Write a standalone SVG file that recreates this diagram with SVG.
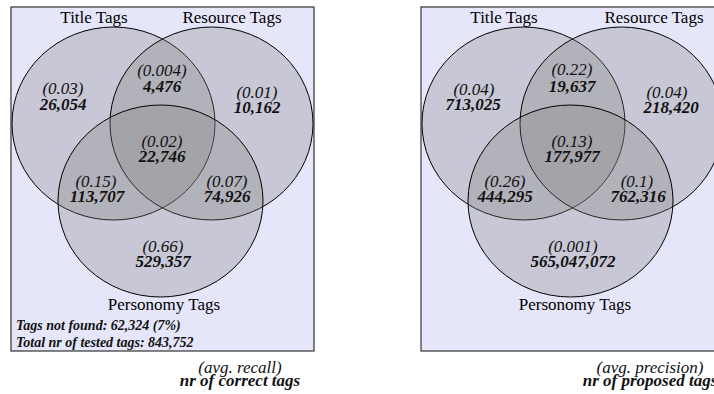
<svg xmlns="http://www.w3.org/2000/svg" width="714" height="394" viewBox="0 0 714 394">
<style>
.panel{fill:#e6e6fa;stroke:#333;stroke-width:1.2}
.set{fill:#808080;fill-opacity:0.3;stroke:#000;stroke-width:1}
.lbl{font-family:"Liberation Serif","Times New Roman",serif;font-size:17px;fill:#000;text-anchor:middle}
.p{font-family:"Liberation Serif","Times New Roman",serif;font-size:17px;font-style:italic;fill:#111;text-anchor:middle}
.n{font-family:"Liberation Serif","Times New Roman",serif;font-size:17px;font-style:italic;font-weight:bold;fill:#111;text-anchor:middle}
.s{font-family:"Liberation Serif","Times New Roman",serif;font-size:14px;font-style:italic;font-weight:bold;fill:#111}
</style>
<rect width="714" height="394" fill="#fff"/>
<g id="recall-panel">
<rect class="panel" x="11" y="7" width="303" height="344"/>
<g id="recall-title"><ellipse class="set" cx="113.5" cy="123.5" rx="101.5" ry="96.5"/></g>
<g id="recall-resource"><ellipse class="set" cx="211.5" cy="123.5" rx="101.5" ry="96.5"/></g>
<g id="recall-personomy"><ellipse class="set" cx="160.5" cy="201" rx="102.5" ry="96"/></g>
<text class="lbl" x="94" y="23">Title Tags</text>
<text class="lbl" x="232" y="23">Resource Tags</text>
<text class="lbl" x="164" y="310">Personomy Tags</text>
<text class="p" x="63" y="94">(0.03)</text><text class="n" x="63" y="110">26,054</text>
<text class="p" x="162" y="76">(0.004)</text><text class="n" x="162" y="92">4,476</text>
<text class="p" x="257" y="98">(0.01)</text><text class="n" x="257" y="113">10,162</text>
<text class="p" x="162" y="147">(0.02)</text><text class="n" x="162" y="162">22,746</text>
<text class="p" x="96" y="187">(0.15)</text><text class="n" x="97" y="202">113,707</text>
<text class="p" x="227" y="187">(0.07)</text><text class="n" x="227" y="202">74,926</text>
<text class="p" x="163" y="252">(0.66)</text><text class="n" x="163" y="267">529,357</text>
<text class="s" x="16" y="330">Tags not found: 62,324 (7%)</text>
<text class="s" x="16" y="347">Total nr of tested tags: 843,752</text>
<text class="p" x="240" y="373">(avg. recall)</text>
<text class="n" x="240" y="386">nr of correct tags</text>
</g>
<g id="precision-panel">
<rect class="panel" x="421" y="7" width="303" height="344"/>
<g id="precision-title"><ellipse class="set" cx="523.5" cy="123.5" rx="101.5" ry="96.5"/></g>
<g id="precision-resource"><ellipse class="set" cx="621.5" cy="123.5" rx="101.5" ry="96.5"/></g>
<g id="precision-personomy"><ellipse class="set" cx="570.5" cy="201" rx="102.5" ry="96"/></g>
<text class="lbl" x="504" y="23">Title Tags</text>
<text class="lbl" x="654" y="23">Resource Tags</text>
<text class="lbl" x="575" y="310">Personomy Tags</text>
<text class="p" x="474" y="95">(0.04)</text><text class="n" x="473" y="110">713,025</text>
<text class="p" x="572" y="75">(0.22)</text><text class="n" x="572" y="92">19,637</text>
<text class="p" x="667" y="98">(0.04)</text><text class="n" x="671" y="113">218,420</text>
<text class="p" x="572" y="147">(0.13)</text><text class="n" x="572" y="162">177,977</text>
<text class="p" x="505" y="187">(0.26)</text><text class="n" x="505" y="202">444,295</text>
<text class="p" x="637" y="187">(0.1)</text><text class="n" x="638" y="202">762,316</text>
<text class="p" x="573" y="252">(0.001)</text><text class="n" x="573" y="267">565,047,072</text>
<text class="p" x="650" y="373">(avg. precision)</text>
<text class="n" x="650" y="386">nr of proposed tags</text>
</g>
</svg>
